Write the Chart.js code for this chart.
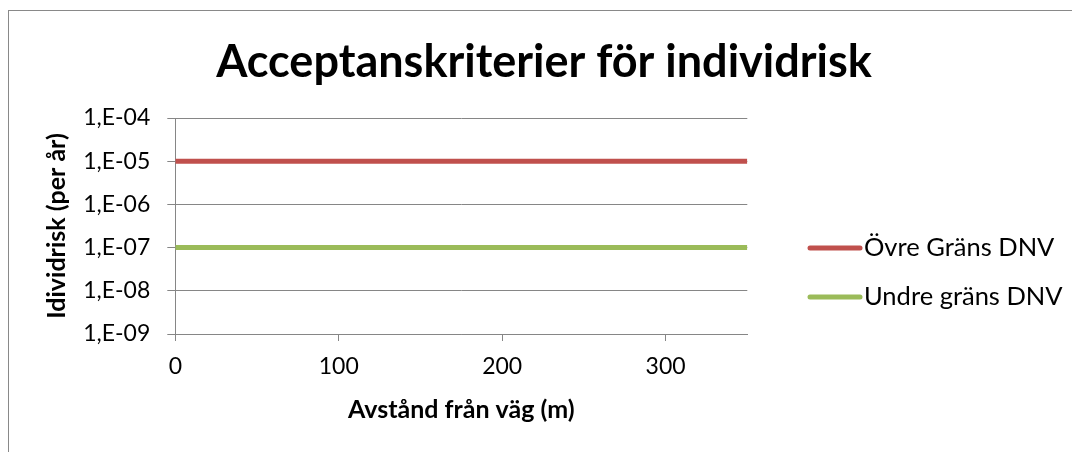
<!DOCTYPE html>
<html>
<head>
<meta charset="utf-8">
<script src="https://cdn.jsdelivr.net/npm/chart.js@4"></script>
<style>
  html, body { margin: 0; padding: 0; background: #fff; overflow: hidden; }
  #frame { position: absolute; left: 8px; top: 10px; width: 1200px; height: 600px; border: 1px solid #898989; }
  #chart { position: absolute; left: 0; top: 0; }
</style>
</head>
<body>
<div id="frame"></div>
<canvas id="chart" width="1072" height="452"></canvas>
<script>
// data
const distances = [0, 350];
const upperLimit = [1e-5, 1e-5];   // Övre gräns DNV
const lowerLimit = [1e-7, 1e-7];   // Undre gräns DNV
const seriesNames = ["Övre Gräns DNV", "Undre gräns DNV"];
const seriesColors = ["#C0504D", "#9BBB59"];
const xTicks = [0, 100, 200, 300];
const yTicks = [1e-9, 1e-8, 1e-7, 1e-6, 1e-5, 1e-4];
const yTickLabels = ["1,E-09", "1,E-08", "1,E-07", "1,E-06", "1,E-05", "1,E-04"];
const chartTitle = "Acceptanskriterier för individrisk";

const FONT = "Lato";
const gridGrey = "#868686";

// title and legend drawn by hand so they sit where the Excel chart had them
const decor = {
  id: "decor",
  afterDraw(chart) {
    const ctx = chart.ctx;
    ctx.save();
    ctx.fillStyle = "#000";
    ctx.font = "bold 45px " + FONT;
    ctx.textAlign = "center";
    ctx.textBaseline = "middle";
    ctx.fillText(chartTitle, 544, 62);

    ctx.font = "25.5px " + FONT;
    ctx.textAlign = "left";
    chart.data.datasets.forEach((ds, i) => {
      const y = 248 + i * 49;
      ctx.strokeStyle = ds.borderColor;
      ctx.lineWidth = 5;
      ctx.lineCap = "round";
      ctx.beginPath();
      ctx.moveTo(810, y);
      ctx.lineTo(860, y);
      ctx.stroke();
      ctx.fillText(ds.label, 864, y);
    });
    ctx.restore();
  }
};

function toPoints(ys) {
  return distances.map((x, i) => ({ x: x, y: ys[i] }));
}

function draw() {
  const ctx = document.getElementById("chart").getContext("2d");
  new Chart(ctx, {
    type: "line",
    data: {
      datasets: [
        { label: seriesNames[0], data: toPoints(upperLimit), borderColor: seriesColors[0], borderWidth: 5, pointRadius: 0 },
        { label: seriesNames[1], data: toPoints(lowerLimit), borderColor: seriesColors[1], borderWidth: 5, pointRadius: 0 },
      ],
    },
    options: {
      responsive: false,
      animation: false,
      layout: { padding: { top: 118, left: 8, right: 324.7, bottom: 0 } },
      plugins: {
        legend: { display: false },
        title: { display: false },
        tooltip: { enabled: false },
      },
      scales: {
        x: {
          type: "linear",
          min: 0,
          max: 350,
          afterBuildTicks: (s) => { s.ticks = xTicks.map((v) => ({ value: v })); },
          afterFit: (s) => { s.height = 118; },
          grid: { drawOnChartArea: false, color: gridGrey, tickLength: 7 },
          border: { color: gridGrey },
          ticks: { color: "#000", font: { family: FONT, size: 23 }, padding: 12, maxRotation: 0 },
          title: {
            display: true,
            text: "Avstånd från väg (m)",
            color: "#000",
            font: { family: FONT, size: 25, weight: "bold" },
            padding: { top: 0, bottom: 27 },
          },
        },
        y: {
          type: "logarithmic",
          min: 1e-9,
          max: 1e-4,
          afterBuildTicks: (s) => { s.ticks = yTicks.map((v) => ({ value: v })); },
          afterFit: (s) => { s.width = 167.3; },
          grid: { color: gridGrey, tickLength: 8 },
          border: { color: gridGrey },
          ticks: {
            color: "#000",
            font: { family: FONT, size: 23 },
            padding: 17,
            callback: (v, i) => yTickLabels[i],
          },
          title: {
            display: true,
            text: "Idividrisk (per år)",
            color: "#000",
            font: { family: FONT, size: 25, weight: "bold" },
            padding: { top: 34, bottom: 0 },
          },
        },
      },
    },
    plugins: [decor],
  });
}

document.fonts.load("20px " + FONT).then(draw, draw);
</script>
</body>
</html>
